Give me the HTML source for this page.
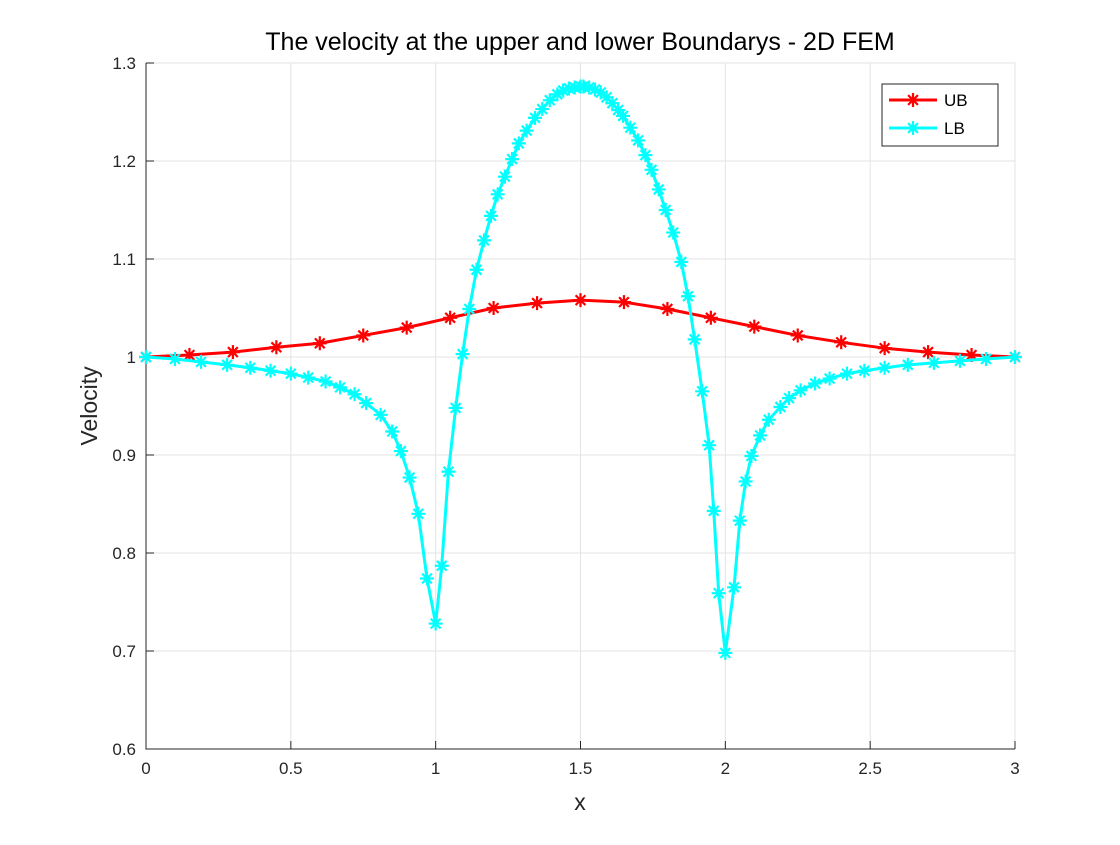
<!DOCTYPE html>
<html><head><meta charset="utf-8"><style>
body{margin:0;background:#fff;font-family:"Liberation Sans",sans-serif}
svg text{font-family:"Liberation Sans",sans-serif}
</style></head><body>
<svg id="chart" width="1120" height="840" xmlns="http://www.w3.org/2000/svg">
<rect width="1120" height="840" fill="#fff"/>
<g id="grid"></g>
<g id="axes"></g>
<g id="series"></g>
<text x="580" y="50" font-size="25" text-anchor="middle" fill="#000">The velocity at the upper and lower Boundarys - 2D FEM</text>
<text x="580" y="810" font-size="23" text-anchor="middle" fill="#262626">x</text>
<text transform="translate(97,406) rotate(-90)" font-size="23" text-anchor="middle" fill="#262626">Velocity</text>
<g>
<rect x="882" y="84" width="116" height="62" fill="#fff" stroke="#262626" stroke-width="1"/>
<g id="legend-items"></g>
</g>
</svg>
<script>
const xTicks=[0,0.5,1,1.5,2,2.5,3];
const xTickLabels=["0","0.5","1","1.5","2","2.5","3"];
const yTicks=[0.6,0.7,0.8,0.9,1,1.1,1.2,1.3];
const yTickLabels=["0.6","0.7","0.8","0.9","1","1.1","1.2","1.3"];
const ubX=[0,0.15,0.3,0.45,0.6,0.75,0.9,1.05,1.2,1.35,1.5,1.65,1.8,1.95,2.1,2.25,2.4,2.55,2.7,2.85,3];
const ubY=[1.0,1.002,1.005,1.010,1.014,1.022,1.030,1.040,1.050,1.055,1.058,1.056,1.049,1.040,1.031,1.022,1.015,1.009,1.005,1.002,1.0];
const lbX=[0,0.1,0.19,0.28,0.36,0.43,0.5,0.56,0.62,0.67,0.72,0.76,0.81,0.85,0.88,0.91,0.94,0.97,1.0,
1.021,1.044,1.069,1.093,1.116,1.141,1.167,1.191,1.214,1.239,1.264,1.287,1.314,1.343,1.368,1.394,1.42,1.44,1.46,1.48,1.50,
1.51,1.53,1.55,1.57,1.59,1.61,1.63,1.647,1.672,1.699,1.724,1.745,1.770,1.794,1.820,1.848,1.871,1.894,1.920,1.944,1.960,1.977,2.0,
2.03,2.05,2.07,2.09,2.12,2.15,2.19,2.22,2.26,2.31,2.36,2.42,2.48,2.55,2.63,2.72,2.81,2.9,3.0];
const lbY=[1.0,0.998,0.995,0.992,0.989,0.986,0.983,0.979,0.975,0.969,0.962,0.953,0.941,0.924,0.904,0.877,0.840,0.774,0.728,
0.787,0.883,0.948,1.003,1.049,1.089,1.119,1.144,1.166,1.184,1.202,1.218,1.231,1.244,1.253,1.262,1.268,1.272,1.274,1.275,1.276,
1.276,1.275,1.273,1.270,1.265,1.259,1.252,1.246,1.234,1.221,1.206,1.191,1.171,1.150,1.127,1.097,1.062,1.018,0.965,0.910,0.843,0.759,0.698,
0.765,0.833,0.873,0.899,0.920,0.936,0.949,0.958,0.966,0.973,0.978,0.983,0.986,0.989,0.992,0.994,0.996,0.998,1.0];
const NS="http://www.w3.org/2000/svg";
const L=146,R=1015,T=63,B=749,x0=0,x1=3,y0=0.6,y1=1.3;
const sx=v=>L+(v-x0)/(x1-x0)*(R-L);
const sy=v=>B-(v-y0)/(y1-y0)*(B-T);
function mk(tag,attrs,parent){const e=document.createElementNS(NS,tag);for(const k in attrs)e.setAttribute(k,attrs[k]);parent.appendChild(e);return e;}
const grid=document.getElementById('grid'),axes=document.getElementById('axes'),series=document.getElementById('series');
xTicks.forEach((t,i)=>{
 const g=mk('line',{x1:sx(t),x2:sx(t),y1:T,y2:B,stroke:'#e3e3e3','stroke-width':1},grid);
 
 
 const tk=mk('line',{x1:sx(t),x2:sx(t),y1:B,y2:B-8,stroke:'#262626','stroke-width':1},axes);
 
 
 const tx=mk('text',{x:sx(t),y:B+25,'font-size':17,'text-anchor':'middle',fill:'#262626'},axes);
 tx.textContent=xTickLabels[i];
 
 
});
yTicks.forEach((t,i)=>{
 const g=mk('line',{x1:L,x2:R,y1:sy(t),y2:sy(t),stroke:'#e3e3e3','stroke-width':1},grid);
 
 
 const tk=mk('line',{x1:L,x2:L+8,y1:sy(t),y2:sy(t),stroke:'#262626','stroke-width':1},axes);
 
 
 const tx=mk('text',{x:L-10,y:sy(t)+6,'font-size':17,'text-anchor':'end',fill:'#262626'},axes);
 tx.textContent=yTickLabels[i];
 
 
});
const ax=mk('path',{d:`M${L},${T}V${B}H${R}`,fill:'none',stroke:'#262626','stroke-width':1},axes);


function star(cx,cy,r,col,parent){
 const d=`M${cx-r},${cy}H${cx+r}M${cx},${cy-r}V${cy+r}M${cx-r*0.7},${cy-r*0.7}L${cx+r*0.7},${cy+r*0.7}M${cx-r*0.7},${cy+r*0.7}L${cx+r*0.7},${cy-r*0.7}`;
 return mk('path',{d:d,stroke:col,'stroke-width':2.2,fill:'none'},parent);
}
function drawSeries(xs,ys,col,name){
 const g=mk('g',{},series);
 
 
 const p=mk('polyline',{points:xs.map((x,i)=>sx(x)+','+sy(ys[i])).join(' '),fill:'none',stroke:col,'stroke-width':3,'stroke-linejoin':'round'},g);
 
 
 xs.forEach((x,i)=>{
  const m=star(sx(x),sy(ys[i]),7,col,g);
  
  
 });
}
drawSeries(ubX,ubY,'#ff0000','ub');
drawSeries(lbX,lbY,'#00ffff','lb');
const li=document.getElementById('legend-items');
[['UB','#ff0000',100],['LB','#00ffff',128]].forEach(([lab,col,y])=>{
 const g=mk('g',{},li);
 
 
 mk('line',{x1:889,x2:937,y1:y,y2:y,stroke:col,'stroke-width':3},g);
 star(913,y,7,col,g);
 const t=mk('text',{x:944,y:y+6,'font-size':17,fill:'#000'},g);
 t.textContent=lab;
});
</script>
</body></html>
